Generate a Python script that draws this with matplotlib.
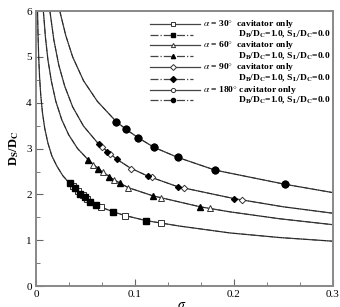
import matplotlib
matplotlib.use("Agg")
import matplotlib.pyplot as plt
from matplotlib.ticker import MultipleLocator

plt.rcParams['font.family'] = ['Liberation Serif', 'DejaVu Serif']
plt.rcParams['mathtext.fontset'] = 'stix'

# ---- data ----
# solid curves, "cavitator only"
sig_30 = [0.0015, 0.002, 0.0027, 0.0036, 0.0048, 0.0065, 0.0088, 0.012, 0.016, 0.021, 0.027, 0.034,
          0.044, 0.055, 0.066, 0.078, 0.090, 0.111, 0.145, 0.196, 0.246, 0.300]
ds_30 = [6.0, 5.48, 4.99, 4.55, 4.16, 3.78, 3.44, 3.12, 2.84, 2.62, 2.41, 2.24,
         2.02, 1.84, 1.72, 1.62, 1.54, 1.43, 1.31, 1.16, 1.06, 0.98]

sig_60 = [0.0074, 0.0095, 0.012, 0.0155, 0.020, 0.026, 0.033, 0.042, 0.053, 0.063, 0.078, 0.093,
          0.118, 0.166, 0.196, 0.246, 0.300]
ds_60 = [6.0, 5.43, 4.94, 4.47, 4.03, 3.63, 3.30, 3.0, 2.75, 2.56, 2.33, 2.15,
         1.97, 1.73, 1.62, 1.47, 1.34]

sig_90 = [0.014, 0.018, 0.023, 0.029, 0.037, 0.048, 0.0636, 0.0815, 0.095, 0.113, 0.143, 0.200,
          0.250, 0.300]
ds_90 = [6.0, 5.37, 4.82, 4.36, 3.91, 3.49, 3.09, 2.77, 2.58, 2.40, 2.17, 1.91,
         1.73, 1.59]

sig_180 = [0.024, 0.030, 0.037, 0.048, 0.062, 0.081, 0.091, 0.103, 0.119, 0.143, 0.181, 0.252, 0.300]
ds_180 = [6.0, 5.47, 5.0, 4.48, 4.03, 3.59, 3.42, 3.24, 3.03, 2.81, 2.53, 2.22, 2.04]

# marker points
sq_open_x = [0.037, 0.042, 0.047, 0.052, 0.066, 0.090, 0.126]
sq_open_y = [2.18, 2.07, 1.98, 1.90, 1.72, 1.54, 1.37]
sq_fill_x = [0.034, 0.039, 0.044, 0.049, 0.055, 0.061, 0.078, 0.111]
sq_fill_y = [2.24, 2.13, 2.02, 1.94, 1.84, 1.77, 1.62, 1.43]

tri_open_x = [0.058, 0.068, 0.079, 0.093, 0.126, 0.176]
tri_open_y = [2.65, 2.48, 2.32, 2.15, 1.93, 1.70]
tri_fill_x = [0.053, 0.063, 0.074, 0.085, 0.118, 0.166]
tri_fill_y = [2.75, 2.56, 2.39, 2.24, 1.97, 1.73]

dia_open_x = [0.067, 0.075, 0.096, 0.117, 0.150, 0.208]
dia_open_y = [3.03, 2.88, 2.56, 2.37, 2.13, 1.88]
dia_fill_x = [0.064, 0.072, 0.082, 0.113, 0.143, 0.200]
dia_fill_y = [3.09, 2.93, 2.77, 2.40, 2.17, 1.91]

cir_x = [0.081, 0.091, 0.103, 0.119, 0.143, 0.181, 0.252]
cir_y = [3.59, 3.42, 3.24, 3.03, 2.81, 2.53, 2.22]

labels = [r'$\alpha$ = 30$\degree$  cavitator only',
          r'$\alpha$ = 60$\degree$  cavitator only',
          r'$\alpha$ = 90$\degree$  cavitator only',
          r'$\alpha$ = 180$\degree$ cavitator only']
sub_label = r'D$_\mathbf{B}$/D$_\mathbf{C}$=1.0, S$_\mathbf{L}$/D$_\mathbf{C}$=0.0'

lc = '#444444'
fig = plt.figure(figsize=(3.4, 3.07), dpi=100)
ax = fig.add_axes([0.106, 0.068, 0.873, 0.896])

curves = [(sig_30, ds_30), (sig_60, ds_60), (sig_90, ds_90), (sig_180, ds_180)]
for sx, sy in curves:
    ax.plot(sx, sy, '-', color=lc, lw=0.9)
    ax.plot(sx, sy, '-.', color='#222222', lw=0.6)

ms = 4
ax.plot(sq_open_x, sq_open_y, 's', mfc='white', mec='#333333', ms=ms, mew=0.7, ls='none')
ax.plot(sq_fill_x, sq_fill_y, 's', color='black', ms=ms - 0.3, ls='none')
ax.plot(tri_open_x, tri_open_y, '^', mfc='white', mec='#333333', ms=ms, mew=0.7, ls='none')
ax.plot(tri_fill_x, tri_fill_y, '^', color='black', ms=ms, ls='none')
ax.plot(dia_open_x, dia_open_y, 'D', mfc='white', mec='#333333', ms=ms - 0.7, mew=0.7, ls='none')
ax.plot(dia_fill_x, dia_fill_y, 'D', color='black', ms=ms - 1, ls='none')
ax.plot(cir_x, cir_y, 'o', mfc='white', mec='#333333', ms=ms + 1, mew=0.7, ls='none')
ax.plot(cir_x, cir_y, 'o', color='black', ms=ms + 0.8, ls='none')

# legend drawn by hand
mk = ['s', '^', 'D', 'o']
row_y = [0.953, 0.914, 0.875, 0.836, 0.795, 0.754, 0.714, 0.675]
for i in range(4):
    y1 = row_y[2 * i]
    y2 = row_y[2 * i + 1]
    ax.plot([0.384, 0.552], [y1, y1], '-', color=lc, lw=0.9, transform=ax.transAxes)
    ax.plot([0.46], [y1], mk[i], mfc='white', mec='#333333', ms=3, mew=0.7, transform=ax.transAxes)
    ax.plot([0.384, 0.53], [y2, y2], '-.', color=lc, lw=0.9, transform=ax.transAxes)
    ax.plot([0.46], [y2], mk[i], color='black', ms=3, transform=ax.transAxes)
    ax.text(0.562, y1, labels[i], transform=ax.transAxes, fontsize=6.8,
            fontweight='bold', va='center', ha='left')
    ax.text(0.68, y2, sub_label, transform=ax.transAxes, fontsize=6.8,
            fontweight='bold', va='center', ha='left')

ax.set_xlim(0, 0.3)
ax.set_ylim(0, 6)
ax.set_xticks([0, 0.1, 0.2, 0.3])
ax.set_xticklabels(['0', '0.1', '0.2', '0.3'])
ax.set_yticks([0, 1, 2, 3, 4, 5, 6])
ax.xaxis.set_minor_locator(MultipleLocator(0.1 / 3))
ax.yaxis.set_minor_locator(MultipleLocator(0.5))
ax.tick_params(which='both', direction='in', top=False, right=False,
               labelsize=8, color='#666666', pad=3)
ax.tick_params(which='major', length=5)
ax.tick_params(which='minor', length=3)
for sp in ax.spines.values():
    sp.set_color('#888888')
    sp.set_linewidth(1.4)

ax.set_ylabel(r'D$_\mathbf{S}$/D$_\mathbf{C}$', fontsize=9, fontweight='bold', labelpad=4)
fig.text(0.535, -0.012, r'$\sigma$', fontsize=10, ha='center', va='bottom')

fig.savefig('out.png', dpi=100)
